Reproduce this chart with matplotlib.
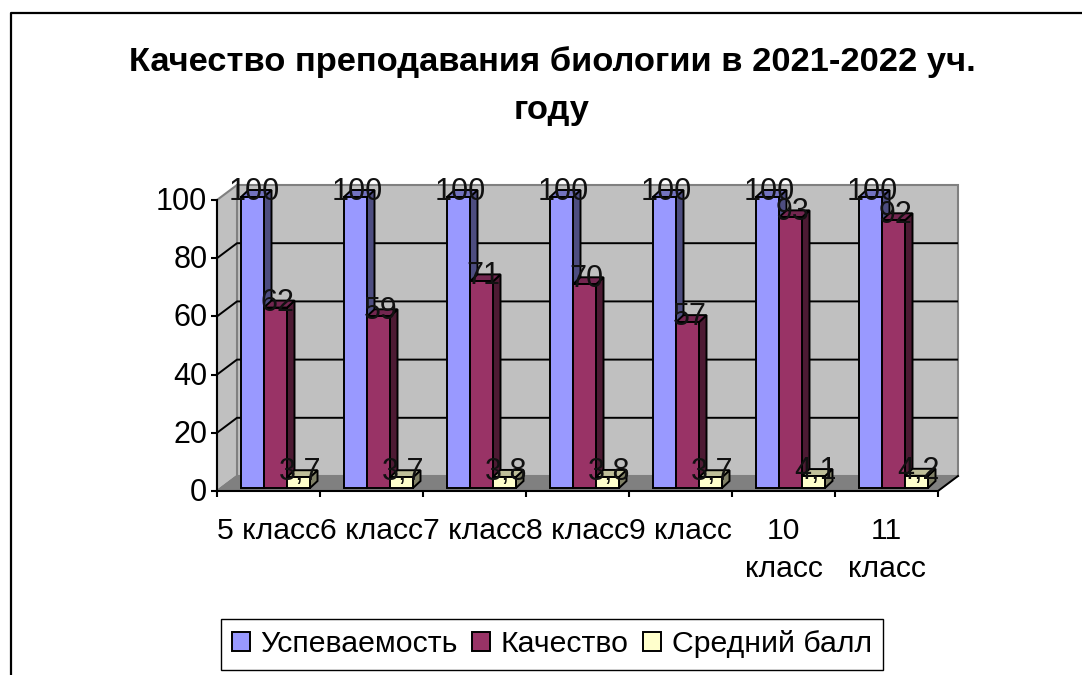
import matplotlib
matplotlib.use('Agg')
import matplotlib.pyplot as plt
from matplotlib.lines import Line2D
from matplotlib.patches import Polygon, Rectangle, Patch
from matplotlib.transforms import ScaledTranslation

plt.rcParams['font.family'] = ['Liberation Sans', 'DejaVu Sans']

categories = ['5 класс', '6 класс', '7 класс', '8 класс', '9 класс', '10\nкласс', '11\nкласс']
uspev = [100, 100, 100, 100, 100, 100, 100]
kachestvo = [62, 59, 71, 70, 57, 93, 92]
ball = [3.7, 3.7, 3.8, 3.8, 3.7, 4.1, 4.2]
ball_labels = ['3,7', '3,7', '3,8', '3,8', '3,7', '4,1', '4,2']
y_ticks = [0, 20, 40, 60, 80, 100]
series_names = ['Успеваемость', 'Качество', 'Средний балл']
front_colors = ['#9999FF', '#993366', '#FFFFCC']
top_colors = ['#7373BF', '#732650', '#BFBF99']
side_colors = ['#4D4D80', '#4D1A33', '#808066']

W, H = 1082, 675
fig = plt.figure(figsize=(W / 100, H / 100), dpi=100)
fig.patch.set_facecolor('white')

# cadre exterieur : haut et gauche seulement, le reste est coupe
fig.add_artist(Line2D([10.5 / W, 10.5 / W, 1], [0, 1 - 12.5 / H, 1 - 12.5 / H], transform=fig.transFigure,
                      color='black', lw=1.6))

ax = fig.add_axes([217 / W, (H - 491) / H, 721 / W, 291 / H])
ax.patch.set_visible(False)
ax.set_xlim(0, 7)
ax.set_ylim(0, 100)
for s in ['top', 'right']:
    ax.spines[s].set_visible(False)
for s in ['left', 'bottom']:
    ax.spines[s].set_linewidth(1.5)

# profondeur du faux 3D, en unites de donnees
wall_dx = 20 / 103
wall_dy = 15 / 2.91
bar_dx = 7.5 / 103
bar_dy = 7 / 2.91
bar_x0 = 24 / 103
bar_w = 23 / 103
bar_lift = 3 / 2.91

# murs et sol
ax.add_patch(Polygon([(wall_dx, wall_dy), (7 + wall_dx, wall_dy), (7 + wall_dx, 100 + wall_dy), (wall_dx, 100 + wall_dy)],
                     fc='#C0C0C0', ec='#808080', lw=1.5, clip_on=False, zorder=1))
ax.add_patch(Polygon([(0, 0), (wall_dx, wall_dy), (wall_dx, 100 + wall_dy), (0, 100)],
                     fc='#C0C0C0', ec='#808080', lw=1.5, clip_on=False, zorder=1))
ax.add_patch(Polygon([(0, 0), (7, 0), (7 + wall_dx, wall_dy), (wall_dx, wall_dy)],
                     fc='#808080', ec='#808080', lw=1.0, clip_on=False, zorder=1))

# grille
for t in y_ticks[1:-1]:
    ax.plot([0, wall_dx, 7 + wall_dx - 0.01], [t, t + wall_dy, t + wall_dy], color='black', lw=1.4,
            clip_on=False, zorder=1.5)
ax.plot([0, wall_dx], [0, wall_dy], color='#808080', lw=1.2, clip_on=False, zorder=1.5)
ax.plot([7, 7 + wall_dx], [0, wall_dy], color='black', lw=1.4, clip_on=False, zorder=1.5)

# barres
z = 2
for i in range(len(categories)):
    values = [uspev[i], kachestvo[i], ball[i]]
    for j in range(3):
        x0 = i + bar_x0 + j * bar_w
        x1 = x0 + bar_w
        y0 = bar_lift
        y1 = bar_lift + values[j]
        ax.add_patch(Polygon([(x1, y0), (x1 + bar_dx, y0 + bar_dy), (x1 + bar_dx, y1 + bar_dy), (x1, y1)],
                             fc=side_colors[j], ec='black', lw=1.4, clip_on=False, zorder=z))
        ax.add_patch(Polygon([(x0, y1), (x1, y1), (x1 + bar_dx, y1 + bar_dy), (x0 + bar_dx, y1 + bar_dy)],
                             fc=top_colors[j], ec='black', lw=1.4, clip_on=False, zorder=z))
        ax.add_patch(Rectangle((x0, y0), bar_w, values[j], fc=front_colors[j], ec='black', lw=1.4,
                               clip_on=False, zorder=z))
        z += 0.01

# etiquettes
for i in range(len(categories)):
    labels = [str(uspev[i]), str(kachestvo[i]), ball_labels[i]]
    values = [uspev[i], kachestvo[i], ball[i]]
    for j in range(3):
        xc = i + bar_x0 + (j + 0.5) * bar_w + 2 / 103
        ax.text(xc, values[j] + bar_lift + bar_dy - 2 / 2.91, labels[j], ha='center', va='center', fontsize=22,
                color='#111111', clip_on=False, zorder=10)

ax.set_yticks(y_ticks)
ax.set_xticks(range(8))
ax.set_xticklabels([])
ax.tick_params(axis='both', which='major', length=4, width=1.5, labelsize=22, pad=3)
ax.set_xticks([i + 0.5 for i in range(7)], minor=True)
ax.set_xticklabels(categories, minor=True, fontsize=21.7, linespacing=1.44)
ax.tick_params(axis='x', which='minor', length=0, pad=19)

# les graduations de gauche un peu plus haut
up = ScaledTranslation(0, 1.5 / 100, fig.dpi_scale_trans)
for lab in ax.get_yticklabels():
    lab.set_transform(lab.get_transform() + up)

fig.text(552 / W, 1 - 86 / H, 'Качество преподавания биологии в 2021-2022 уч.\nгоду', ha='center', va='center',
         fontsize=24.8, fontweight='bold', linespacing=1.71)

handles = [Patch(fc=front_colors[k], ec='black', lw=1.4) for k in range(3)]
fig.legend(handles, series_names, loc='center', bbox_to_anchor=(552 / W, 1 - 644.5 / H), ncol=3, fontsize=21.8,
           frameon=True, fancybox=False, edgecolor='black', framealpha=1, handlelength=0.59, handleheight=0.59,
           handletextpad=0.35, columnspacing=0.48, borderpad=0.38, borderaxespad=0)

fig.savefig('out.png', dpi=100)
